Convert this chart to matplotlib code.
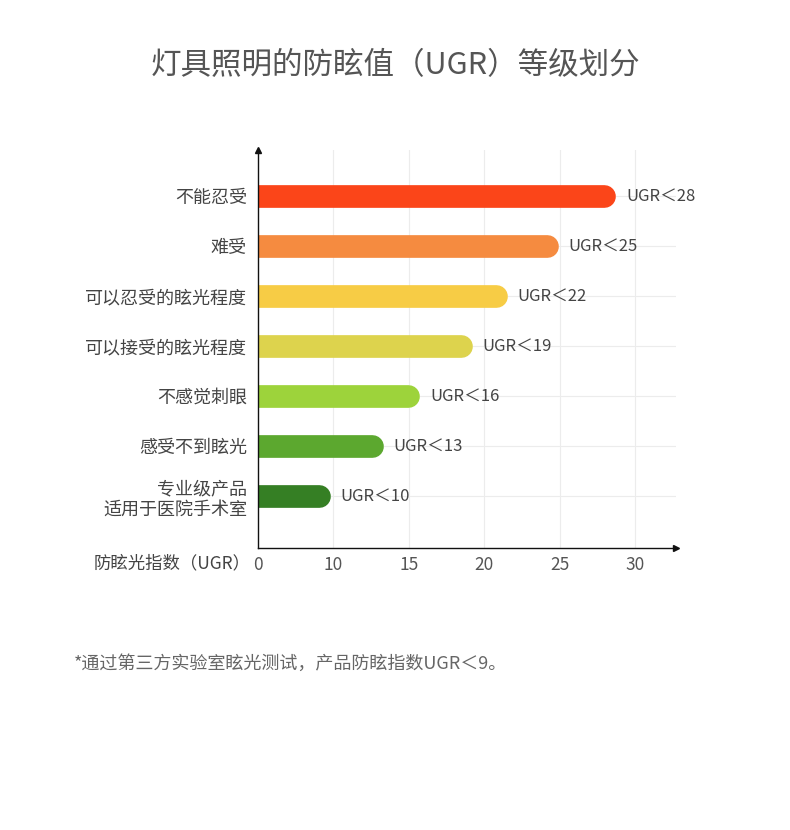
import matplotlib.pyplot as plt

plt.rcParams['font.family'] = ['Noto Sans CJK SC', 'DejaVu Sans']

# === DATA ===
levels = ['不能忍受', '难受', '可以忍受的眩光程度', '可以接受的眩光程度',
          '不感觉刺眼', '感受不到眩光', '专业级产品\n适用于医院手术室']
ugr_limits = [28, 25, 22, 19, 16, 13, 10]
bar_ends = [28.7, 24.9, 21.5, 19.2, 15.7, 13.3, 9.8]
bar_colors = ['#FB4519', '#F58B40', '#F7CC45', '#DDD34D', '#9DD33B', '#5CA82F', '#357F24']
tick_values = [5, 10, 15, 20, 25, 30]
tick_labels = ['0', '10', '15', '20', '25', '30']

# === FIGURE ===
fig = plt.figure(figsize=(7.9, 8.3), dpi=100)
ax = fig.add_axes([0.3266, 0.3398, 0.5291, 0.4795])
x_min, x_max = 5, 32.7
ax.set_xlim(x_min, x_max)
ax.set_ylim(7.04, -0.92)

# grid
for v in tick_values[1:]:
    ax.axvline(v, color='#ECECEC', lw=0.8, zorder=0)
for i in range(len(levels)):
    ax.axhline(i, color='#ECECEC', lw=0.8, zorder=0)

# rounded bars: thick line with round cap, left cap clipped by the axes
bar_px = 22.7
lw = bar_px * 72 / 100
cap = (bar_px / 2) / (ax.get_position().width * 790 / (x_max - x_min))
for i, (end, c, u) in enumerate(zip(bar_ends, bar_colors, ugr_limits)):
    ax.plot([x_min - 2, end - cap], [i, i], color=c, lw=lw,
            solid_capstyle='round', zorder=2)
    ax.annotate(f'UGR＜{u}', (end, i), xytext=(7.5, 0), textcoords='offset points',
                va='center', ha='left', fontsize=12, color='#444444')

# axes with arrows
for s in ['top', 'right']:
    ax.spines[s].set_visible(False)
for s in ['left', 'bottom']:
    ax.spines[s].set_color('#111111')
    ax.spines[s].set_linewidth(1.0)
ax.plot(1, 0, '>', color='#111111', ms=4, transform=ax.transAxes, clip_on=False)
ax.plot(0, 1, '^', color='#111111', ms=4, transform=ax.transAxes, clip_on=False)

ax.set_xticks(tick_values)
ax.set_xticklabels(tick_labels)
ax.set_yticks(range(len(levels)))
ax.set_yticklabels(levels)
ax.tick_params(axis='x', length=0, pad=5.5, labelsize=12.5, labelcolor='#555555')
ax.tick_params(axis='y', length=0, pad=8, labelsize=13, labelcolor='#444444')

ax.text(-0.017, -0.0377, '防眩光指数（UGR）', transform=ax.transAxes, ha='right', va='center',
        fontsize=12.5, color='#444444')

fig.text(0.5, 0.921, '灯具照明的防眩值（UGR）等级划分', ha='center', va='center',
         fontsize=22, fontweight='medium', color='#555555')
fig.text(0.093, 0.2, '*通过第三方实验室眩光测试，产品防眩指数UGR＜9。', ha='left', va='center',
         fontsize=13, color='#666666')

fig.savefig('out.png', dpi=100, facecolor='white')
